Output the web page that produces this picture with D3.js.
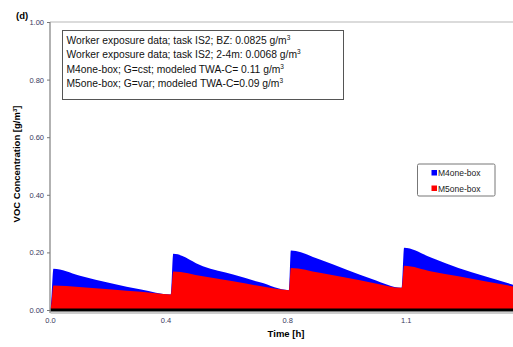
<!DOCTYPE html>
<html>
<head>
<meta charset="utf-8">
<script src="https://cdn.jsdelivr.net/npm/d3@7"></script>
<style>
  body { margin: 0; background: #fff; }
  svg { font-family: "Liberation Sans", Arial, sans-serif; }
</style>
</head>
<body>
<div id="chart"></div>
<script>
// time [h] and modelled concentrations [g/m3]
const timeH = [0, 0.003, 0.011, 0.093, 0.199, 0.292, 0.387,
  0.395, 0.490, 0.587, 0.673, 0.766,
  0.772, 0.865, 0.951, 1.036, 1.127,
  1.135, 1.223, 1.309, 1.394, 1.484];
const m4Values = [0, 0.02, 0.143, 0.120, 0.092, 0.071, 0.054,
  0.195, 0.152, 0.123, 0.096, 0.069,
  0.207, 0.175, 0.140, 0.106, 0.077,
  0.216, 0.181, 0.146, 0.117, 0.088];
const m5Values = [0, 0.012, 0.085, 0.080, 0.071, 0.063, 0.054,
  0.134, 0.117, 0.100, 0.083, 0.069,
  0.146, 0.129, 0.112, 0.094, 0.077,
  0.154, 0.134, 0.117, 0.100, 0.082];

const xTickValues = [0, 0.37, 0.76, 1.14];
const xTickLabels = ['0.0', '0.4', '0.8', '1.1'];
const yTickValues = [0, 0.2, 0.4, 0.6, 0.8, 1.0];

const seriesNames = ['M4one-box', 'M5one-box'];
const seriesColors = ['#0000ff', '#ff0000'];

const infoLines = [
  ['Worker exposure data; task IS2; BZ: 0.0825 g/m', '3'],
  ['Worker exposure data; task IS2; 2-4m: 0.0068 g/m', '3'],
  ['M4one-box; G=cst; modeled TWA-C= 0.11 g/m', '3'],
  ['M5one-box; G=var; modeled TWA-C=0.09 g/m', '3']
];

const width = 513, height = 347;
const svg = d3.select('#chart').append('svg')
  .attr('width', width).attr('height', height);

const x = d3.scaleLinear().domain([0, 1.484]).range([50, 513]);
const y = d3.scaleLinear().domain([0, 1]).range([310, 22]);

svg.append('clipPath').attr('id', 'plot-clip')
  .append('rect').attr('x', 50).attr('y', 22).attr('width', 463).attr('height', 290);

// plot area top border
svg.append('line')
  .attr('x1', 50).attr('x2', 513).attr('y1', y(1)).attr('y2', y(1))
  .attr('stroke', '#cfcfcf').attr('stroke-width', 1.5);

const data = timeH.map((t, i) => ({t: t, m4: m4Values[i], m5: m5Values[i]}));
const plot = svg.append('g').attr('clip-path', 'url(#plot-clip)');

['m4', 'm5'].forEach((key, i) => {
  const area = d3.area()
    .curve(d3.curveMonotoneX)
    .x(d => x(d.t))
    .y0(y(0))
    .y1(d => y(d[key]));
  plot.append('path')
    .datum(data)
    .attr('d', area)
    .attr('fill', seriesColors[i]);
});

// measured data lies at zero: thick black line
plot.append('line')
  .attr('x1', x(0)).attr('x2', x(1.484)).attr('y1', y(0)).attr('y2', y(0))
  .attr('stroke', '#000').attr('stroke-width', 3);

// axes
const xAxis = d3.axisBottom(x)
  .tickValues(xTickValues)
  .tickFormat((d, i) => xTickLabels[i])
  .tickSize(0).tickPadding(5);

const gx = svg.append('g')
  .attr('transform', 'translate(0,' + (y(0) + 2.5) + ')')
  .call(xAxis);
gx.select('.domain').attr('stroke', '#999').attr('stroke-width', 1.2);
gx.selectAll('text').attr('font-size', '7.5px').attr('fill', '#3a3a5c')
  .attr('font-family', '"Liberation Sans", Arial, sans-serif');

const yAxis = d3.axisLeft(y)
  .tickValues(yTickValues)
  .tickFormat(d3.format('.2f'))
  .tickSizeOuter(0).tickSizeInner(3).tickPadding(3);

const gy = svg.append('g')
  .attr('transform', 'translate(' + x(0) + ',0)')
  .call(yAxis);
gy.select('.domain').attr('stroke', '#999').attr('stroke-width', 1.5)
  .attr('d', 'M0,' + y(1) + 'V' + (y(0) + 3));
gy.selectAll('.tick line').attr('stroke', '#777');
gy.selectAll('text').attr('font-size', '7.5px').attr('fill', '#3a3a5c')
  .attr('font-family', '"Liberation Sans", Arial, sans-serif');

// axis titles
svg.append('text')
  .attr('x', 286).attr('y', 337)
  .attr('text-anchor', 'middle')
  .attr('font-size', '9.5px').attr('font-weight', 'bold')
  .text('Time [h]');

const yTitle = svg.append('text')
  .attr('transform', 'translate(20,164) rotate(-90)')
  .attr('text-anchor', 'middle')
  .attr('font-size', '9.5px').attr('font-weight', 'bold');
yTitle.append('tspan').text('VOC Concentration [g/m');
yTitle.append('tspan').attr('font-size', '6px').attr('dy', -3.5).text('3');
yTitle.append('tspan').attr('dy', 3.5).text(']');

// panel label
svg.append('text')
  .attr('x', 16).attr('y', 19)
  .attr('font-size', '9.5px').attr('font-weight', 'bold')
  .text('(d)');

// info box
svg.append('rect')
  .attr('x', 62.5).attr('y', 30.5).attr('width', 281).attr('height', 69)
  .attr('fill', '#fff').attr('stroke', '#555').attr('stroke-width', 1);

infoLines.forEach((ln, i) => {
  const t = svg.append('text')
    .attr('x', 66.5).attr('y', 44 + i * 14.3)
    .attr('font-size', '10.3px').attr('fill', '#111');
  t.append('tspan').text(ln[0]);
  t.append('tspan').attr('font-size', '6.5px').attr('dy', -4).text(ln[1]);
});

// legend
svg.append('rect')
  .attr('x', 417.5).attr('y', 164).attr('width', 77.5).attr('height', 32)
  .attr('rx', 1.5)
  .attr('fill', '#fff').attr('stroke', '#777').attr('stroke-width', 1);

seriesNames.forEach((name, i) => {
  const ly = 173 + i * 15.5;
  svg.append('rect')
    .attr('x', 431.5).attr('y', ly - 3).attr('width', 5.5).attr('height', 5.5)
    .attr('fill', seriesColors[i]);
  svg.append('text')
    .attr('x', 438).attr('y', ly + 3)
    .attr('font-size', '8.5px').attr('fill', '#222')
    .text(name);
});
</script>
</body>
</html>
